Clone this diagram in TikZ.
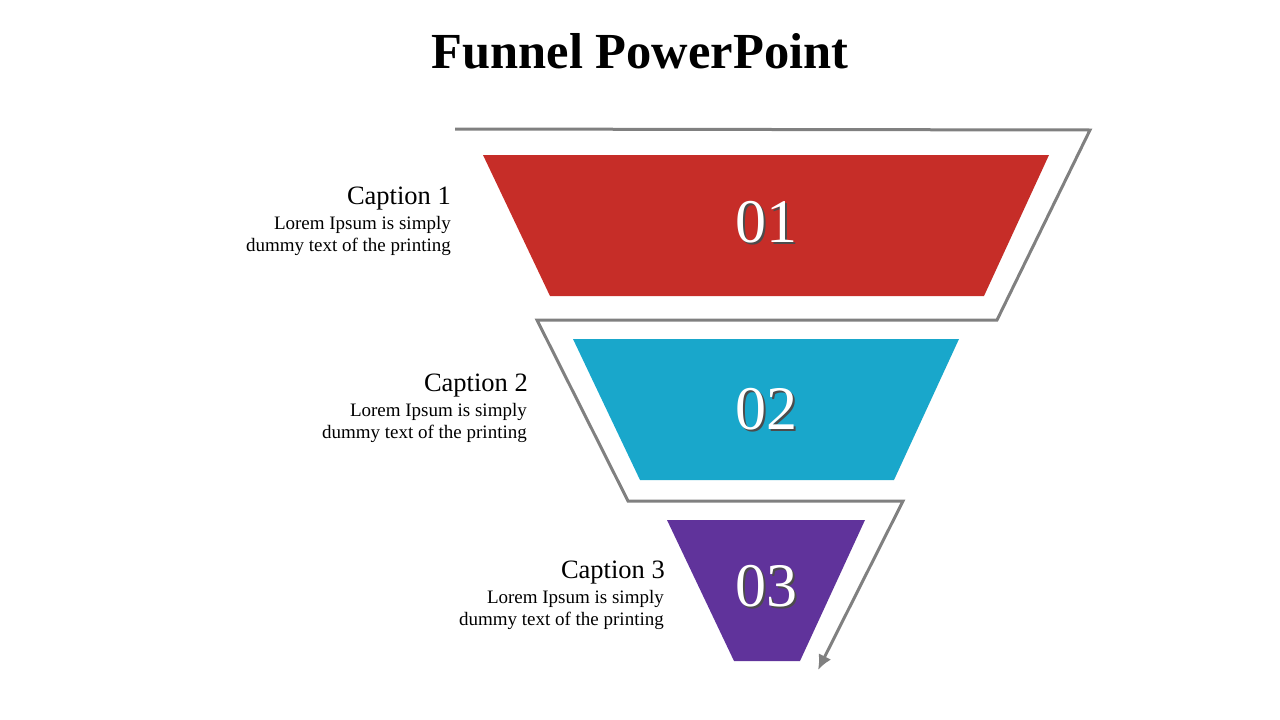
\documentclass[tikz,border=0pt]{standalone}
\usepackage{fontspec}
\setmainfont{Liberation Serif}
\usepackage{tikz}
\usetikzlibrary{positioning, arrows.meta}

\definecolor{fred}{HTML}{C62D28}
\definecolor{fblue}{HTML}{19A7CB}
\definecolor{fpurple}{HTML}{60339B}
\definecolor{fline}{HTML}{808080}

\tikzset{
    num/.style={text=white, font=\fontsize{62}{64}\selectfont},
    numshadow/.style={text=black!70, font=\fontsize{62}{64}\selectfont},
    captxt/.style={anchor=east, inner sep=0pt, font=\fontsize{26.5}{28}\selectfont},
    body/.style={anchor=north east, inner sep=0pt, align=right, font=\fontsize{19}{22.5}\selectfont}
}

\begin{document}
\begin{tikzpicture}[x=1pt,y=-1pt]
        \useasboundingbox (0,0) rectangle (1280,720);
        % Title
        \node (title) at (640,51) {\fontsize{50.5}{54}\selectfont\bfseries Funnel PowerPoint};
        % Funnel parts
        \fill[fred] (483,155) -- (1049,155) -- (984,296) -- (550,296) -- cycle;
        \fill[fblue] (573,339) -- (959,339) -- (894,480) -- (640,480) -- cycle;
        \fill[fpurple] (667,520) -- (865,520) -- (800,661) -- (734,661) -- cycle;
        % Numbers
        \node[numshadow] at (768,224) {01};
        \node[num] (n1) at (766,222) {01};
        \node[numshadow] at (768,411) {02};
        \node[num] (n2) at (766,409) {02};
        \node[numshadow] at (768,588) {03};
        \node[num] (n3) at (766,586) {03};
        % Gray outline
        \coordinate (s) at (455,129);
        \coordinate (e) at (818,670);
        \draw[fline, line width=3pt, line join=miter, -{Latex[length=15pt,width=14pt]}]
            (s) -- (1090,130) -- (997,320) -- (537,320) -- (628,501) -- (903,501) -- (e);
        % Captions
        \node[captxt] (c1) at (451,199) {Caption 1};
        \node[body] (t1) at (451,216) {Lorem Ipsum is simply\\dummy text of the printing};
        \node[captxt] (c2) at (528,386) {Caption 2};
        \node[body] (t2) at (527,403) {Lorem Ipsum is simply\\dummy text of the printing};
        \node[captxt] (c3) at (665,573) {Caption 3};
        \node[body] (t3) at (664,590) {Lorem Ipsum is simply\\dummy text of the printing};
    \end{tikzpicture}
\end{document}
